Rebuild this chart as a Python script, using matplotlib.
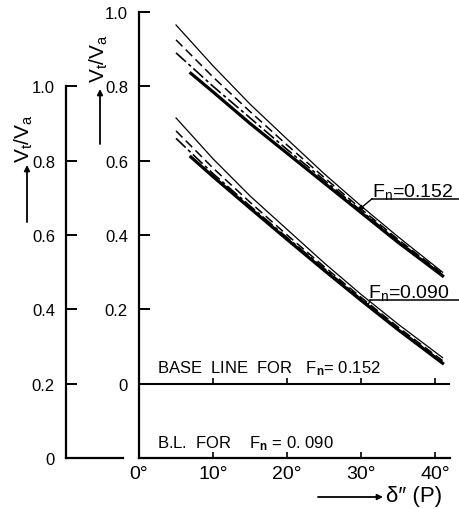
import numpy as np
import matplotlib
matplotlib.use("Agg")
import matplotlib.pyplot as plt
from matplotlib import transforms, markers
from matplotlib.patches import FancyArrowPatch

plt.rcParams['font.family'] = ['Liberation Sans', 'DejaVu Sans']
plt.rcParams['mathtext.fontset'] = 'custom'
plt.rcParams['mathtext.rm'] = 'Liberation Sans'
plt.rcParams['mathtext.it'] = 'Liberation Sans'
plt.rcParams['mathtext.bf'] = 'Liberation Sans:bold'

# propeller angle delta'' (P), degrees
deg = [5, 10, 15, 20, 25, 30, 35, 41]
deg_thick = [7, 10, 15, 20, 25, 30, 35, 41]

# Vt/Va for Fn = 0.152 (measured from its own base line, inner scale)
fn152_solid = [0.965, 0.855, 0.752, 0.658, 0.565, 0.478, 0.395, 0.300]
fn152_dash = [0.925, 0.825, 0.732, 0.642, 0.555, 0.470, 0.388, 0.296]
fn152_chain = [0.890, 0.800, 0.715, 0.630, 0.548, 0.465, 0.384, 0.293]
fn152_thick = [0.835, 0.785, 0.700, 0.620, 0.540, 0.460, 0.380, 0.290]

# Vt/Va for Fn = 0.090 (measured from its own base line, outer scale)
fn090_solid = [0.915, 0.805, 0.705, 0.615, 0.525, 0.440, 0.360, 0.270]
fn090_dash = [0.880, 0.780, 0.688, 0.600, 0.515, 0.432, 0.352, 0.262]
fn090_chain = [0.860, 0.765, 0.678, 0.593, 0.510, 0.428, 0.348, 0.258]
fn090_thick = [0.810, 0.757, 0.672, 0.588, 0.505, 0.424, 0.345, 0.255]

x_ticks = [0, 10, 20, 30, 40]
x_tick_labels = ["0°", "10°", "20°", "30°", "40°"]
inner_ticks = [0, 0.2, 0.4, 0.6, 0.8, 1.0]
inner_labels = ["0", "0.2", "0.4", "0.6", "0.8", "1.0"]
outer_ticks = [0, 0.2, 0.4, 0.6, 0.8, 1.0]
outer_labels = ["0", "0.2", "0.4", "0.6", "0.8", "1.0"]

W, H = 459, 510
fig = plt.figure(figsize=(W / 100, H / 100), dpi=100)


def rect(left, right, bottom, top):
    return [left / W, 1 - bottom / H, (right - left) / W, (bottom - top) / H]


ax = fig.add_axes(rect(139, 450, 459, 13))
axo = fig.add_axes(rect(66, 123, 459, 13))
for a in (ax, axo):
    a.set_facecolor('none')
    a.spines['top'].set_visible(False)
    a.spines['right'].set_visible(False)
    for s in ('left', 'bottom'):
        a.spines[s].set_linewidth(1.6)

styles = [
    dict(color='k', lw=0.9, ls='-'),
    dict(color='k', lw=1.1, dashes=(6, 3)),
    dict(color='k', lw=1.2, dashes=(8, 2, 2, 2)),
    dict(color='k', lw=2.3, ls='-'),
]
xs = [deg, deg, deg, deg_thick]

upper = [fn152_solid, fn152_dash, fn152_chain, fn152_thick]
lower = [fn090_solid, fn090_dash, fn090_chain, fn090_thick]

# upper family on the inner scale
for x, vals, st in zip(xs, upper, styles):
    ax.plot(x, vals, **st)

# lower family: x from the inner axes, y from the outer scale
outer_trans = transforms.blended_transform_factory(ax.transData, axo.transData)
for x, vals, st in zip(xs, lower, styles):
    ax.plot(x, vals, transform=outer_trans, **st)

ax.set_xlim(0, 42)
ax.set_ylim(-0.2, 1.0)
axo.set_xlim(0, 1)
axo.set_ylim(0, 1.2)
ax.spines['left'].set_bounds(-0.2, 1.0)
axo.spines['left'].set_bounds(0, 1.0)

ax.set_yticks(inner_ticks, inner_labels)
ax.tick_params(axis='y', direction='in', length=8, width=1.4, pad=8, labelsize=12)
ax.set_xticks(x_ticks, x_tick_labels)
ax.tick_params(axis='x', direction='in', length=4, width=1.2, pad=5, labelsize=14)
ax.xaxis.get_major_ticks()[0].tick1line.set_visible(False)

axo.set_xticks([])
axo.set_yticks(outer_ticks, outer_labels)
axo.tick_params(axis='y', direction='in', length=8, width=1.4, pad=8, labelsize=12)

# base line for Fn = 0.152 with its degree marks
ax.axhline(0, color='k', lw=1.5)
ax.plot(x_ticks[1:], [0] * 4, ls='none', marker=markers.TICKUP,
        markersize=4, mew=1.2, color='k', clip_on=False)

ax.text(2.4, 0.03, r"BASE  LINE  FOR   F$_\mathbf{n}$= 0.152", fontsize=12, va='baseline')
ax.text(2.4, -0.17, r"B.L.  FOR    F$_\mathbf{n}$ = 0. 090", fontsize=12, va='baseline')

# Froude number labels with leaders
x152 = 29.6
y152 = np.interp(x152, deg_thick, fn152_thick)
ax.text(31.5, 0.505, r"F$_\mathrm{n}$=0.152", fontsize=14, va='baseline')
ax.plot([31.5, 43.3], [0.498, 0.498], color='k', lw=1.1, clip_on=False)
ax.annotate('', xy=(x152, y152), xytext=(31.5, 0.498),
            arrowprops=dict(arrowstyle='-|>', lw=1.0, color='k', mutation_scale=7,
                            shrinkA=0, shrinkB=0))

x090 = 30.9
y090 = np.interp(x090, deg_thick, fn090_thick)
ax.text(30.9, 0.232, r"F$_\mathrm{n}$=0.090", fontsize=14, va='baseline')
ax.plot([31.2, 43.3], [0.224, 0.224], color='k', lw=1.1, clip_on=False)
ax.annotate('', xy=(x090, y090), xycoords=outer_trans, xytext=(31.2, 0.224),
            textcoords='data',
            arrowprops=dict(arrowstyle='-', lw=1.0, color='k', shrinkA=0, shrinkB=0))

# axis titles with arrows
ylab = r"V$_\mathrm{t}$/V$_\mathrm{a}$"
fig.text(99 / W, 1 - 59 / H, ylab, rotation=90, ha='center', va='center', fontsize=15)
fig.text(24 / W, 1 - 139 / H, ylab, rotation=90, ha='center', va='center', fontsize=15)
arrow = dict(arrowstyle='-|>', lw=1.3, color='k', mutation_scale=8, shrinkA=0, shrinkB=0)
fig.add_artist(FancyArrowPatch((100 / W, 1 - 145 / H), (100 / W, 1 - 90 / H),
                               transform=fig.transFigure, **arrow))
fig.add_artist(FancyArrowPatch((27 / W, 1 - 223 / H), (27 / W, 1 - 166 / H),
                               transform=fig.transFigure, **arrow))
fig.add_artist(FancyArrowPatch((318 / W, 1 - 498 / H), (383 / W, 1 - 498 / H),
                               transform=fig.transFigure, **arrow))
fig.text(386 / W, 1 - 497 / H, "δ″ (P)", ha='left', va='center', fontsize=16)

fig.savefig("out.png", dpi=100, facecolor='white')
